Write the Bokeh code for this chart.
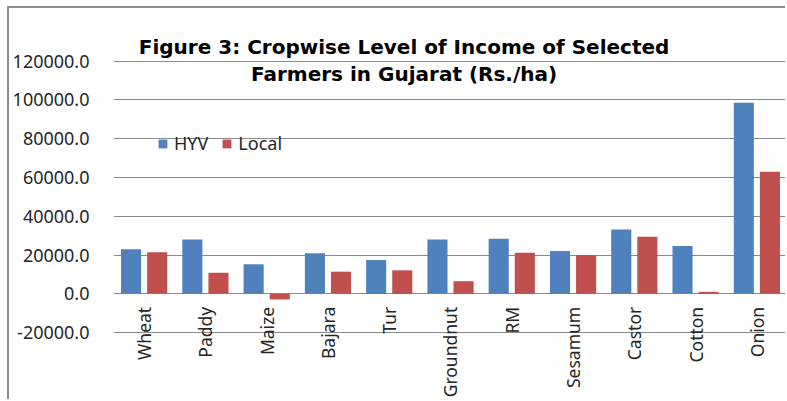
import math
from bokeh.plotting import figure
from bokeh.models import (ColumnDataSource, FactorRange, Range1d, FixedTicker, Label,
                          NumeralTickFormatter)
from bokeh.transform import dodge
from bokeh.embed import file_html
from bokeh.resources import INLINE

crops = ["Wheat", "Paddy", "Maize", "Bajara", "Tur", "Groundnut", "RM",
         "Sesamum", "Castor", "Cotton", "Onion"]
hyv = [23000, 28000, 15200, 20900, 17400, 28000, 28400, 22000, 33200, 24600, 98500]
local = [21400, 10900, -2900, 11400, 12100, 6500, 21200, 20000, 29400, 1000, 62900]
y_ticks = [-20000, 0, 20000, 40000, 60000, 80000, 100000, 120000]
title_lines = ["Figure 3: Cropwise Level of Income of Selected",
               "Farmers in Gujarat (Rs./ha)"]

BLUE = "#4F81BD"
RED = "#C0504D"
FONT = "Noto Sans"

src = ColumnDataSource(dict(crop=crops, hyv=hyv, local=local))

# page offsets caused by the outer border (CSS)
OX, OY = 9, 8
# px per 20000 ~ 38.8 ; zero line at y=293.3 (page) ; frame top 10, bottom 401
ppu = 38.8 / 20000
y_end = (293.3 - 10) / ppu
y_start = -(401 - 293.3) / ppu

p = figure(width=787 - OX, height=401 - OY, output_backend="svg", toolbar_location=None,
           x_range=FactorRange(*crops, range_padding=0),
           y_range=Range1d(y_start, y_end))
p.styles = {"border-left": "2px solid #8c8c8c", "border-top": "2px solid #8c8c8c",
            "margin-left": "7px", "margin-top": "6px"}
p.title.visible = False
p.min_border_left = 112 - OX
p.min_border_right = 0
p.min_border_top = 10 - OY
p.min_border_bottom = 0
p.outline_line_color = None
p.background_fill_color = "white"
p.border_fill_color = "white"

p.vbar(x=dodge("crop", -0.213, range=p.x_range), top="hyv", width=0.328,
       source=src, fill_color=BLUE, line_color=None, legend_label="HYV")
p.vbar(x=dodge("crop", 0.213, range=p.x_range), top="local", width=0.328,
       source=src, fill_color=RED, line_color=None, legend_label="Local")

# axes
p.xaxis.fixed_location = 0
p.xaxis.major_label_orientation = math.pi / 2
p.xaxis.axis_line_color = None
p.xaxis.major_tick_line_color = None
p.xaxis.minor_tick_line_color = None
p.xaxis.major_label_standoff = 7
p.xaxis.major_label_text_font = FONT
p.xaxis.major_label_text_font_size = "17.5px"
p.xaxis.major_label_text_color = "#262626"

p.yaxis.ticker = FixedTicker(ticks=y_ticks)
p.yaxis.formatter = NumeralTickFormatter(format="0.0")
p.yaxis.axis_line_color = None
p.yaxis.major_tick_line_color = None
p.yaxis.minor_tick_line_color = None
p.yaxis.major_label_standoff = 18
p.yaxis.major_label_text_font = FONT
p.yaxis.major_label_text_font_size = "18px"
p.yaxis.major_label_text_color = "#262626"

p.xgrid.grid_line_color = None
p.ygrid.grid_line_color = "#8a8a8a"
p.ygrid.grid_line_width = 1

# legend
p.legend.orientation = "horizontal"
p.legend.location = (44, 246)
p.legend.background_fill_alpha = 0
p.legend.border_line_color = None
p.legend.padding = 0
p.legend.margin = 0
p.legend.spacing = 13
p.legend.label_standoff = 6
p.legend.glyph_width = 11
p.legend.glyph_height = 11
p.legend.label_height = 18
p.legend.label_text_font = FONT
p.legend.label_text_font_size = "18px"
p.legend.label_text_color = "#262626"

# title (inside plot area)
tx = (403 - 112) / (675 / 11)
for line, yb in zip(title_lines, [46, 73]):
    p.add_layout(Label(x=tx, y=(293.3 - yb) / ppu, text=line, text_align="center",
                       text_baseline="alphabetic", text_font="DejaVu Sans",
                       text_font_style="bold", text_font_size="20px",
                       text_color="black"))

open("out.html", "w").write(file_html(p, INLINE))
